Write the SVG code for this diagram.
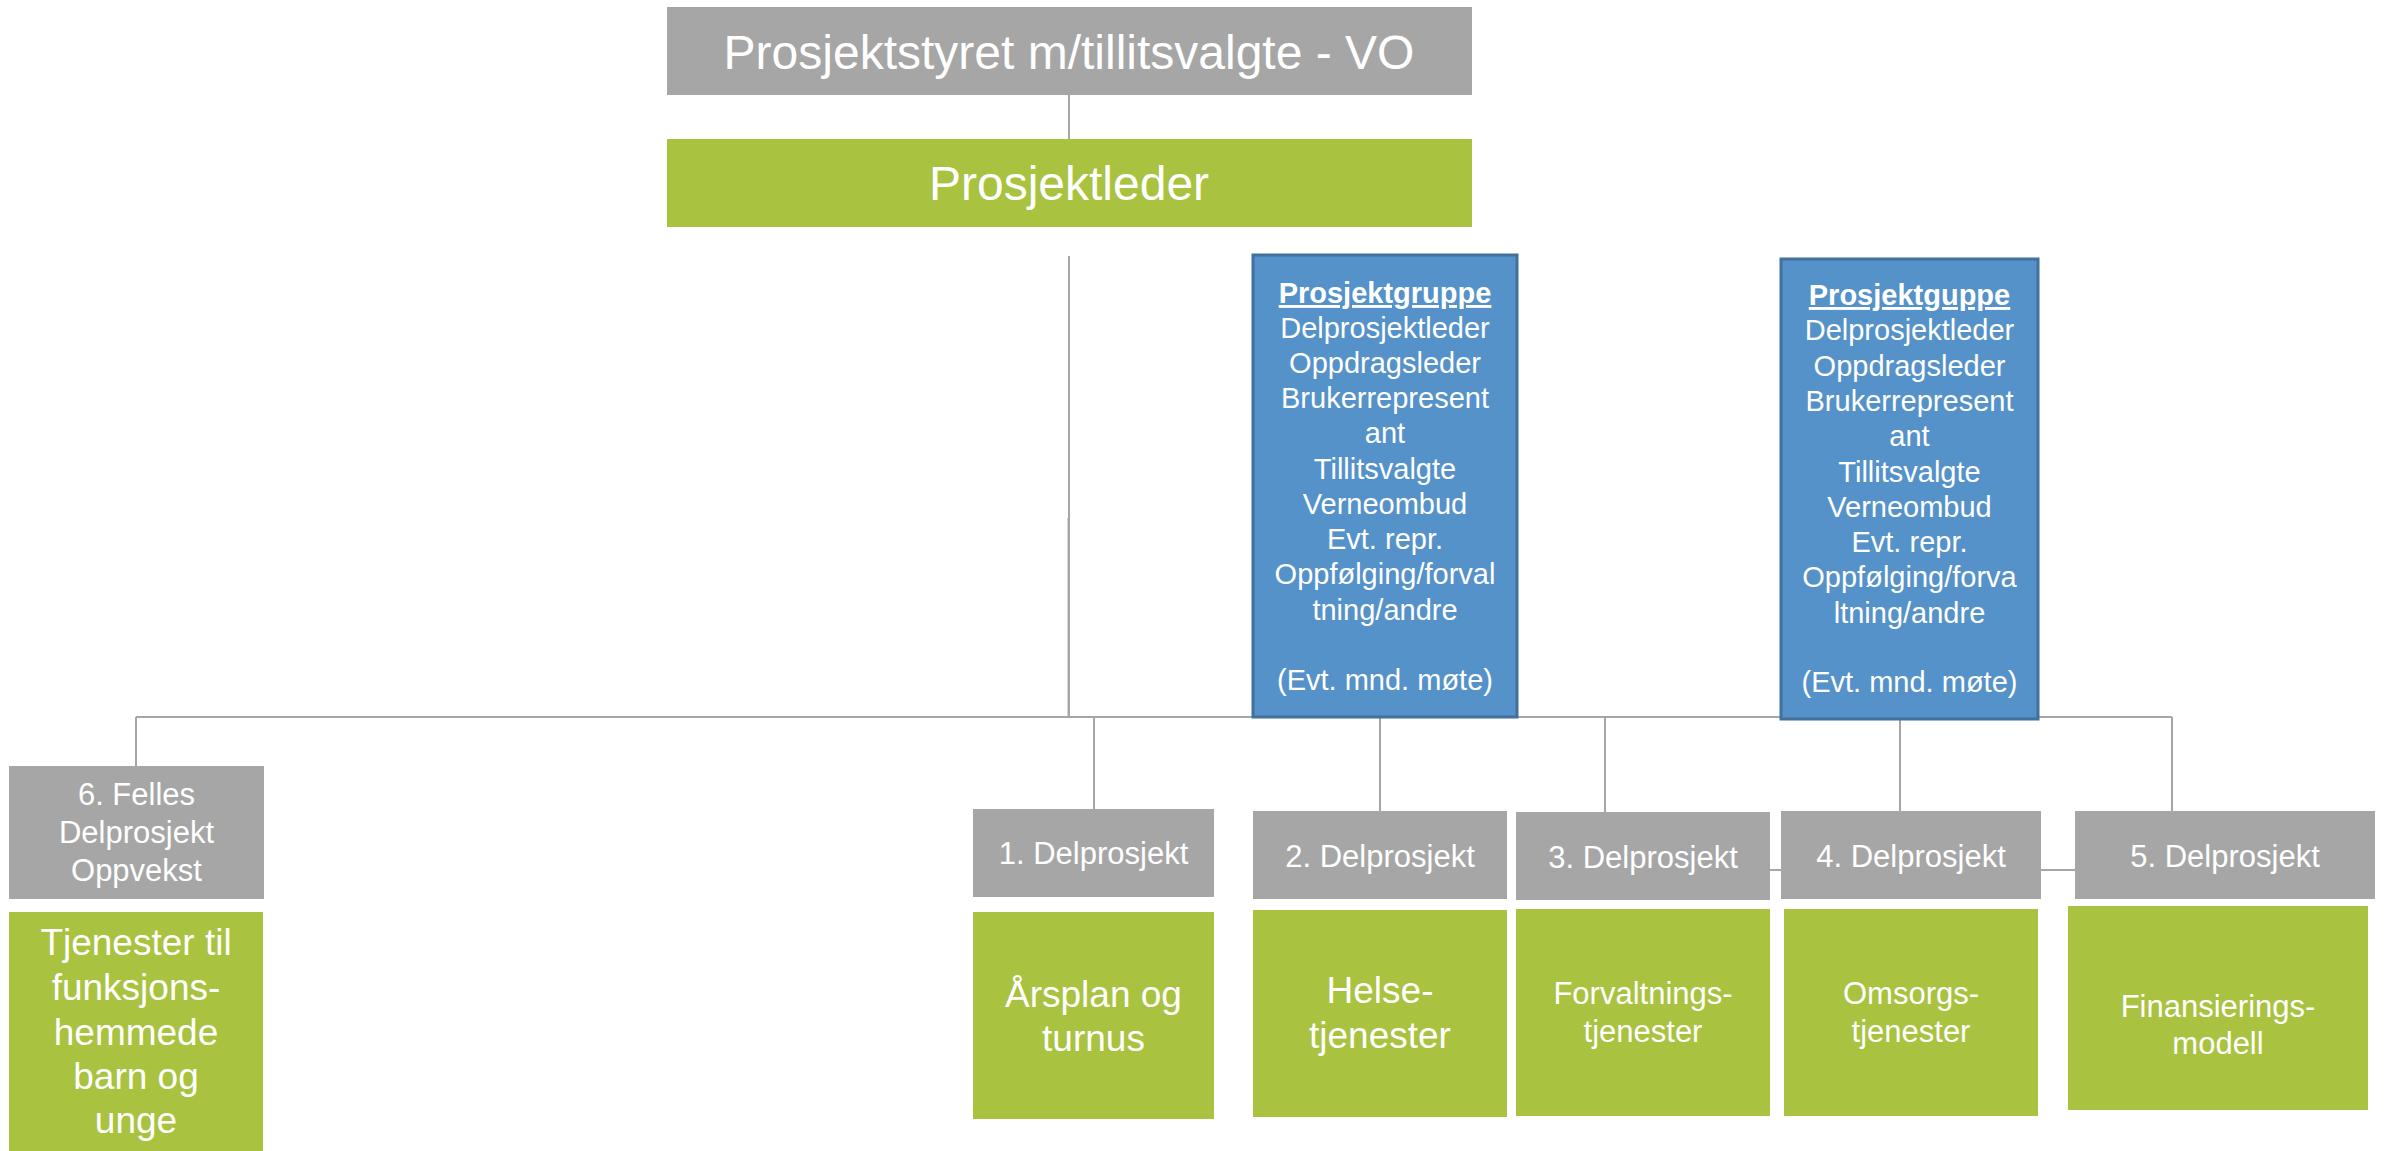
<svg xmlns="http://www.w3.org/2000/svg" width="2387" height="1151" viewBox="0 0 2387 1151">
<style>
text{font-family:"Liberation Sans",Arial,sans-serif;fill:#fff;text-anchor:middle}
.gray{fill:#A6A6A6}
.green{fill:#A9C23F}
.blue{fill:#5592C9;stroke:#41719C;stroke-width:3}
.con{stroke:#A6A6A6;stroke-width:2;fill:none}
.big{font-size:48px}
.dp{font-size:31px}
.g36{font-size:37px}
.g31{font-size:31px}
.bl{font-size:29px}
.hd{font-weight:bold;text-decoration:underline}
</style>
<rect width="2387" height="1151" fill="#fff"/>
<g id="connectors">
<line class="con" x1="1069" y1="95" x2="1069" y2="139"/>
<line class="con" x1="1069" y1="256" x2="1069" y2="717" stroke-width="1.5"/>
<line class="con" x1="1068.5" y1="518" x2="1068.5" y2="717" stroke-width="2.5"/>
<line class="con" x1="136" y1="717" x2="2172" y2="717"/>
<line class="con" x1="136" y1="717" x2="136" y2="766"/>
<line class="con" x1="1094" y1="717" x2="1094" y2="809"/>
<line class="con" x1="1380" y1="717" x2="1380" y2="811"/>
<line class="con" x1="1605" y1="717" x2="1605" y2="812"/>
<line class="con" x1="1900" y1="717" x2="1900" y2="811"/>
<line class="con" x1="2172" y1="717" x2="2172" y2="811"/>
<line class="con" x1="1760" y1="870" x2="2080" y2="870"/>
</g>
<g id="styret">
<rect class="gray" x="667" y="7" width="805" height="88"/>
<text class="big" x="1069" y="69">Prosjektstyret m/tillitsvalgte - VO</text>
</g>
<g id="prosjektleder">
<rect class="green" x="667" y="139" width="805" height="88"/>
<text class="big" x="1069" y="200">Prosjektleder</text>
</g>
<g id="prosjektgruppe1">
<rect class="blue" x="1253" y="255" width="264" height="462"/>
<text class="bl" x="1385"><tspan class="hd" x="1385" y="303">Prosjektgruppe</tspan><tspan x="1385" y="338">Delprosjektleder</tspan><tspan x="1385" y="373">Oppdragsleder</tspan><tspan x="1385" y="408">Brukerrepresent</tspan><tspan x="1385" y="443">ant</tspan><tspan x="1385" y="479">Tillitsvalgte</tspan><tspan x="1385" y="514">Verneombud</tspan><tspan x="1385" y="549">Evt. repr.</tspan><tspan x="1385" y="584">Oppfølging/forval</tspan><tspan x="1385" y="620">tning/andre</tspan><tspan x="1385" y="690">(Evt. mnd. møte)</tspan></text>
</g>
<g id="prosjektgruppe2">
<rect class="blue" x="1781" y="259" width="257" height="460"/>
<text class="bl" x="1909.5"><tspan class="hd" x="1909.5" y="305">Prosjektguppe</tspan><tspan x="1909.5" y="340">Delprosjektleder</tspan><tspan x="1909.5" y="376">Oppdragsleder</tspan><tspan x="1909.5" y="411">Brukerrepresent</tspan><tspan x="1909.5" y="446">ant</tspan><tspan x="1909.5" y="482">Tillitsvalgte</tspan><tspan x="1909.5" y="517">Verneombud</tspan><tspan x="1909.5" y="552">Evt. repr.</tspan><tspan x="1909.5" y="587">Oppfølging/forva</tspan><tspan x="1909.5" y="623">ltning/andre</tspan><tspan x="1909.5" y="692">(Evt. mnd. møte)</tspan></text>
</g>
<g id="dp6">
<rect class="gray" x="9" y="766" width="255" height="133"/>
<text class="dp"><tspan x="136.5" y="805">6. Felles</tspan><tspan x="136.5" y="843">Delprosjekt</tspan><tspan x="136.5" y="881">Oppvekst</tspan></text>
</g>
<g id="tj6">
<rect class="green" x="9" y="912" width="254" height="239"/>
<text class="g36"><tspan x="136" y="955">Tjenester til</tspan><tspan x="136" y="1000">funksjons-</tspan><tspan x="136" y="1045">hemmede</tspan><tspan x="136" y="1089">barn og</tspan><tspan x="136" y="1133">unge</tspan></text>
</g>
<g id="dp1">
<rect class="gray" x="973" y="809" width="241" height="88"/>
<text class="dp" x="1093.5" y="864">1. Delprosjekt</text>
</g>
<g id="tj1">
<rect class="green" x="973" y="912" width="241" height="207"/>
<text class="g36"><tspan x="1093.5" y="1007">Årsplan og</tspan><tspan x="1093.5" y="1051">turnus</tspan></text>
</g>
<g id="dp2">
<rect class="gray" x="1253" y="811" width="254" height="88"/>
<text class="dp" x="1380" y="867">2. Delprosjekt</text>
</g>
<g id="tj2">
<rect class="green" x="1253" y="910" width="254" height="207"/>
<text class="g36"><tspan x="1380" y="1003">Helse-</tspan><tspan x="1380" y="1048">tjenester</tspan></text>
</g>
<g id="dp3">
<rect class="gray" x="1516" y="812" width="254" height="88"/>
<text class="dp" x="1643" y="868">3. Delprosjekt</text>
</g>
<g id="tj3">
<rect class="green" x="1516" y="909" width="254" height="207"/>
<text class="g31"><tspan x="1643" y="1004">Forvaltnings-</tspan><tspan x="1643" y="1042">tjenester</tspan></text>
</g>
<g id="dp4">
<rect class="gray" x="1781" y="811" width="260" height="88"/>
<text class="dp" x="1911" y="867">4. Delprosjekt</text>
</g>
<g id="tj4">
<rect class="green" x="1784" y="909" width="254" height="207"/>
<text class="g31"><tspan x="1911" y="1004">Omsorgs-</tspan><tspan x="1911" y="1042">tjenester</tspan></text>
</g>
<g id="dp5">
<rect class="gray" x="2075" y="811" width="300" height="88"/>
<text class="dp" x="2225" y="867">5. Delprosjekt</text>
</g>
<g id="tj5">
<rect class="green" x="2068" y="906" width="300" height="204"/>
<text class="g31"><tspan x="2218" y="1017">Finansierings-</tspan><tspan x="2218" y="1054">modell</tspan></text>
</g>
</svg>
